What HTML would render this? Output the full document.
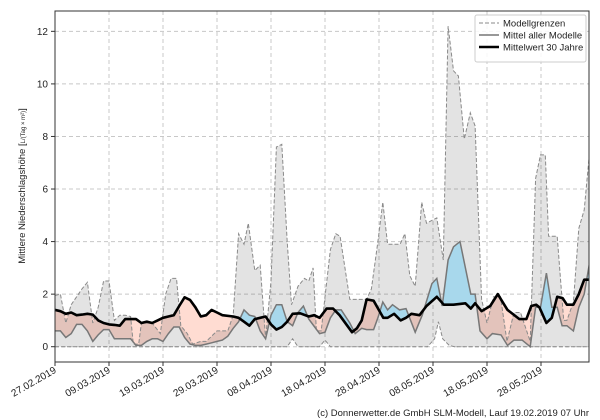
<!DOCTYPE html>
<html><head><meta charset="utf-8"><style>
body{margin:0;background:#fff;}
svg{display:block;font-family:"Liberation Sans","DejaVu Sans",sans-serif;}
</style></head><body>
<svg id="s" width="600" height="420" xmlns="http://www.w3.org/2000/svg"></svg>
<script>
const L=55,R=589,T=11,B=362;
const X=d=>L+5.4*d, Y=v=>346.7-26.28*v;
const up=[[0,1.95],[1,2.0],[2,0.9],[3,1.6],[4,1.9],[5,2.2],[6,2.45],[7,0.9],[8,1.5],[9,2.5],[10,2.5],[11,1.0],[12,1.2],[13,1.2],[14,1.15],[14.5,0.1],[15.5,0.1],[16,0.9],[17,0.9],[18,0.9],[19.5,0.5],[20.5,2.0],[21.5,2.6],[22.5,2.6],[23.3,0.8],[24.5,0.5],[25.5,0.1],[27,0.2],[28,0.2],[29,0.4],[30,0.6],[32,0.6],[33,1.2],[34,4.3],[35,3.9],[35.8,4.7],[37,2.9],[38,3.1],[39,0.3],[40,2.5],[41,7.6],[42,7.7],[43,4.0],[43.8,1.6],[45,2.3],[46.2,2.6],[47,2.5],[47.8,3.0],[48.4,0.6],[49.3,0.6],[50,1.9],[51,3.7],[52,4.3],[52.8,4.2],[54.6,1.8],[57.7,1.8],[58.6,2.2],[59.8,4.0],[60.7,5.5],[61.6,3.9],[63.9,3.9],[64.8,4.3],[65.7,2.7],[66.7,2.3],[67.9,5.5],[68.8,4.7],[70.7,4.9],[71.9,3.3],[72.8,12.2],[73.8,10.5],[74.7,10.3],[75.8,7.9],[76.9,8.9],[77.8,8.4],[79,1.8],[80,0.9],[81.2,1.9],[82.5,1.9],[83.7,0.2],[85,1.3],[86.2,1.3],[88,0.2],[89,6.4],[89.9,7.3],[90.8,7.3],[91.4,4.2],[93,4.2],[94.2,1.0],[94.8,1.0],[96,1.7],[97,4.5],[98,5.2],[99,7.4]];
const lo=[[0,0],[43,0],[44,0.3],[45,0],[49,0],[50,0.25],[51,0],[69,0],[70.3,0.3],[71,0.95],[71.8,0.3],[73,0.05],[74,0],[99,0]];
const mm=[[0,0.6],[1,0.6],[2,0.35],[3,0.5],[4,0.85],[5,0.85],[6,0.6],[7,0.2],[8,0.45],[9,0.65],[10,0.65],[11,0.3],[14,0.3],[15,0.05],[16,0.05],[17,0.2],[18,0.3],[19,0.3],[20,0.2],[21,0.5],[22,0.75],[23,0.75],[24,0.35],[25,0.1],[26,0.05],[27,0.05],[28,0.1],[29,0.15],[30,0.2],[31,0.25],[32,0.4],[33,0.7],[34,0.95],[35,1.4],[36,1.2],[37,1.15],[38,0.6],[39,0.3],[40,1.2],[41,1.6],[42,1.6],[43,0.95],[44,0.8],[45,1.3],[46,1.55],[47,1.05],[49,0.5],[50,0.55],[51,1.1],[52,1.4],[53,1.4],[54.6,0.9],[55.6,0.5],[56.8,0.7],[57.7,0.65],[59,0.65],[59.8,1.1],[60.7,1.7],[61.6,1.4],[62.5,1.6],[63.8,1.4],[65,1.45],[66.7,0.55],[68,1.2],[69.8,2.4],[70.7,2.6],[71.7,1.55],[72.8,3.3],[73.8,3.8],[75,4.0],[77,2.0],[77.8,2.0],[78.7,0.6],[80,0.3],[81,0.5],[82.6,0.45],[83.8,0.05],[85,0.25],[86.5,0.25],[88,0.0],[89,1.5],[89.9,1.5],[91,2.8],[92,1.5],[93,1.5],[93.9,0.8],[94.8,0.8],[96,0.6],[97,1.5],[98,2.0],[99,3.2]];
const mj=[[0,1.4],[1,1.35],[2,1.25],[3,1.3],[4,1.2],[5,1.22],[6,1.25],[7,1.22],[8,1.0],[9,0.9],[10,0.85],[11,0.83],[12,0.8],[13,1.05],[15,1.05],[16,0.9],[17,0.95],[18,0.9],[19,1.0],[20,1.1],[21,1.15],[22,1.2],[23,1.55],[24,1.88],[25,1.78],[26,1.5],[27,1.15],[28,1.2],[29,1.4],[30,1.3],[31,1.2],[33,1.15],[34,1.1],[35,0.95],[36,0.8],[37,1.05],[38,1.1],[39,1.15],[40,0.85],[41,0.65],[42,0.75],[43,0.95],[44,1.25],[45.4,1.27],[47,1.15],[48,1.2],[49,1.1],[50.3,1.45],[51.5,1.45],[52.7,1.2],[55,0.55],[55.9,0.7],[56.8,1.0],[57.7,1.8],[59,1.75],[60.8,1.1],[61.6,1.1],[62.8,1.25],[64,1.0],[65,1.1],[66,1.25],[67.5,1.2],[68.8,1.55],[70.7,1.9],[72,1.6],[73.8,1.6],[76,1.65],[77,1.45],[77.8,1.65],[79,1.35],[80.6,1.55],[82,2.0],[82.6,1.8],[83.8,1.4],[86,1.05],[87.3,1.05],[88.2,1.55],[89.1,1.6],[89.7,1.5],[91,0.9],[92,1.1],[93,1.9],[94,1.85],[94.8,1.6],[96,1.6],[97,2.0],[98,2.55],[99,2.55]];
const pts=a=>a.map(p=>X(p[0]).toFixed(1)+","+Y(p[1]).toFixed(1));
const line=a=>"M"+pts(a).join("L");
const band=(a,b)=>"M"+pts(a).join("L")+"L"+pts(b.slice().reverse()).join("L")+"Z";
let s="";
s+=`<defs><clipPath id="pa"><rect x="${L}" y="${T}" width="${R-L}" height="${B-T}"/></clipPath>
<clipPath id="belowM"><path d="${line(mm)}L${X(99)},400L${X(0)},400Z"/></clipPath>
<clipPath id="aboveM"><path d="${line(mm)}L${X(99)},0L${X(0)},0Z"/></clipPath></defs>`;
let g="";
for(let v=0;v<=12;v+=2){g+=`<line x1="${L}" x2="${R}" y1="${Y(v)}" y2="${Y(v)}"/>`;}
const labs=["27.02.2019","09.03.2019","19.03.2019","29.03.2019","08.04.2019","18.04.2019","28.04.2019","08.05.2019","18.05.2019","28.05.2019"];
for(let i=0;i<10;i++){g+=`<line x1="${X(i*10)}" x2="${X(i*10)}" y1="${T}" y2="${B}"/>`;}
s+=`<g clip-path="url(#pa)">`;
s+=`<g stroke="#c8c8c8" stroke-width="1" stroke-dasharray="4,3">${g}</g>`;
s+=`<path d="${line(mj)}L${X(99)},400L${X(0)},400Z" fill="#ffdcd2" clip-path="url(#aboveM)"/>`;
s+=`<path d="${band(up,lo)}" fill="#000" fill-opacity="0.11"/>`;
s+=`<path d="${line(mj)}L${X(99)},0L${X(0)},0Z" fill="#a8d8ec" clip-path="url(#belowM)"/>`;
s+=`<path d="${line(up)}" fill="none" stroke="#8a8a8a" stroke-width="1" stroke-dasharray="4,2"/>`;
s+=`<path d="${line(lo)}" fill="none" stroke="#8a8a8a" stroke-width="1" stroke-dasharray="4,2"/>`;
s+=`<path d="${line(mm)}" fill="none" stroke="#777" stroke-width="1.5"/>`;
s+=`<path d="${line(mj)}" fill="none" stroke="#000" stroke-width="2.6" stroke-linejoin="round"/>`;
s+=`</g>`;
s+=`<rect x="${L}" y="${T}" width="${R-L}" height="${B-T}" fill="none" stroke="#333" stroke-width="1"/>`;
for(let v=0;v<=12;v+=2){s+=`<line x1="${L-4}" x2="${L}" y1="${Y(v)}" y2="${Y(v)}" stroke="#333"/><text x="${L-7}" y="${Y(v)+3.5}" font-size="10" text-anchor="end" fill="#222">${v}</text>`;}
for(let i=0;i<10;i++){const x=X(i*10);s+=`<line x1="${x}" x2="${x}" y1="${B}" y2="${B+4}" stroke="#333"/><text transform="translate(${x+2},${B+10}) rotate(-30)" font-size="10" text-anchor="end" fill="#222">${labs[i]}</text>`;}
s+=`<text transform="translate(25,186) rotate(-90)" font-size="9.5" text-anchor="middle" fill="#222">Mittlere Niederschlagshöhe [<tspan font-size="6">L/(Tag × m²)</tspan>]</text>`;
s+=`<rect x="475" y="15" width="111" height="47" fill="#fff" fill-opacity="0.85" stroke="#ccc" rx="2"/>`;
s+=`<line x1="479" x2="499" y1="23" y2="23" stroke="#8a8a8a" stroke-dasharray="4,2"/><text x="503" y="26.5" font-size="9.5" fill="#222">Modellgrenzen</text>`;
s+=`<line x1="479" x2="499" y1="35" y2="35" stroke="#777" stroke-width="1.5"/><text x="503" y="38.5" font-size="9.5" fill="#222">Mittel aller Modelle</text>`;
s+=`<line x1="479" x2="499" y1="47" y2="47" stroke="#000" stroke-width="2.6"/><text x="503" y="50.5" font-size="9.5" fill="#222">Mittelwert 30 Jahre</text>`;
s+=`<text x="589" y="416" font-size="9.5" text-anchor="end" fill="#222">(c) Donnerwetter.de GmbH SLM-Modell, Lauf 19.02.2019 07 Uhr</text>`;
document.getElementById("s").innerHTML=s;
</script>
</body></html>
